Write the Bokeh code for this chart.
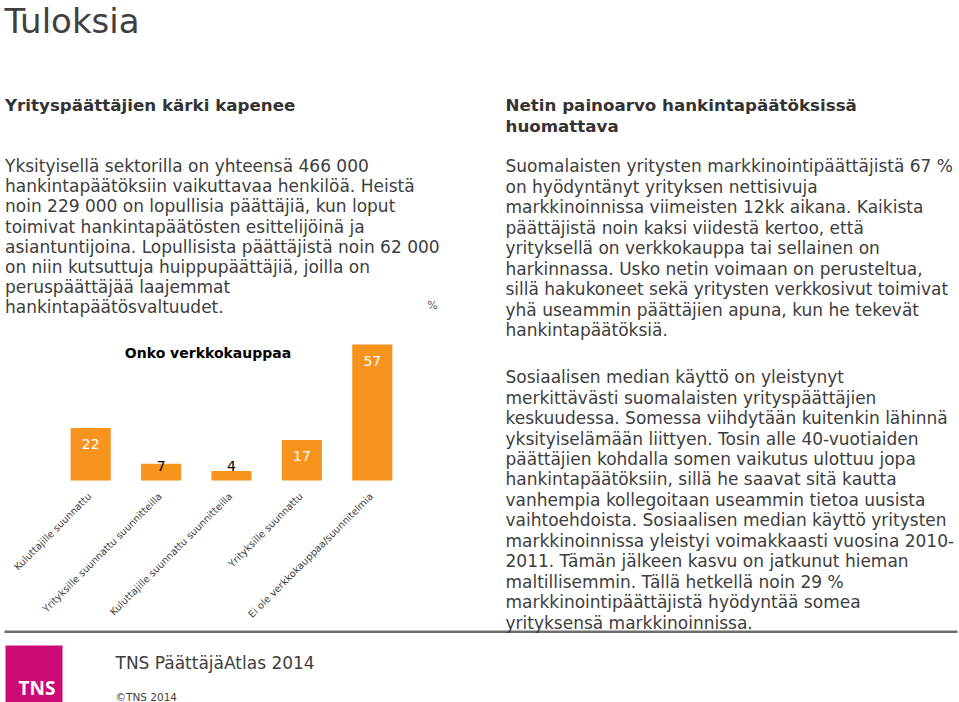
from math import pi
from bokeh.plotting import figure
from bokeh.models import Range1d, Label, ColumnDataSource
from bokeh.core.properties import value
from bokeh.embed import file_html
from bokeh.resources import INLINE

# ---------------- data ----------------
categories = [
    "Kuluttajille suunnattu",
    "Yrityksille suunnattu suunnitteilla",
    "Kuluttajille suunnattu suunnitteilla",
    "Yrityksille suunnattu",
    "Ei ole verkkokauppaa/suunnitelmia",
]
values = [22, 7, 4, 17, 57]
chart_title = "Onko verkkokauppaa"
unit_label = "%"

page_title = "Tuloksia"
left_heading = ["Yrityspäättäjien kärki kapenee"]
left_body = [
    "Yksityisellä sektorilla on yhteensä 466 000",
    "hankintapäätöksiin vaikuttavaa henkilöä. Heistä",
    "noin 229 000 on lopullisia päättäjiä, kun loput",
    "toimivat hankintapäätösten esittelijöinä ja",
    "asiantuntijoina. Lopullisista päättäjistä noin 62 000",
    "on niin kutsuttuja huippupäättäjiä, joilla on",
    "peruspäättäjää laajemmat",
    "hankintapäätösvaltuudet.",
]
right_heading = ["Netin painoarvo hankintapäätöksissä", "huomattava"]
right_body_1 = [
    "Suomalaisten yritysten markkinointipäättäjistä 67 %",
    "on hyödyntänyt yrityksen nettisivuja",
    "markkinoinnissa viimeisten 12kk aikana. Kaikista",
    "päättäjistä noin kaksi viidestä kertoo, että",
    "yrityksellä on verkkokauppa tai sellainen on",
    "harkinnassa. Usko netin voimaan on perusteltua,",
    "sillä hakukoneet sekä yritysten verkkosivut toimivat",
    "yhä useammin päättäjien apuna, kun he tekevät",
    "hankintapäätöksiä.",
]
right_body_2 = [
    "Sosiaalisen median käyttö on yleistynyt",
    "merkittävästi suomalaisten yrityspäättäjien",
    "keskuudessa. Somessa viihdytään kuitenkin lähinnä",
    "yksityiselämään liittyen. Tosin alle 40-vuotiaiden",
    "päättäjien kohdalla somen vaikutus ulottuu jopa",
    "hankintapäätöksiin, sillä he saavat sitä kautta",
    "vanhempia kollegoitaan useammin tietoa uusista",
    "vaihtoehdoista. Sosiaalisen median käyttö yritysten",
    "markkinoinnissa yleistyi voimakkaasti vuosina 2010-",
    "2011. Tämän jälkeen kasvu on jatkunut hieman",
    "maltillisemmin. Tällä hetkellä noin 29 %",
    "markkinointipäättäjistä hyödyntää somea",
    "yrityksensä markkinoinnissa.",
]
footer_title = "TNS PäättäjäAtlas 2014"
footer_copy = "©TNS 2014"
logo_text = "TNS"

# ---------------- layout / styles ----------------
FONT = "DejaVu Sans"
TEXT = "#3d3d3d"
ORANGE = "#f7941d"
MAGENTA = "#cc0a74"
W, H = 959, 702
# bar-chart plotting area on the page (pixels)
CH_L, CH_R, CH_B, CH_T = 55, 407, 480, 344

p = figure(
    width=W, height=H, title=None,
    x_range=Range1d(0, W), y_range=Range1d(H, 0),
    output_backend="svg", toolbar_location=None,
    x_axis_location=None, y_axis_location=None,
    min_border=0,
)
p.outline_line_color = None
p.xgrid.visible = False
p.ygrid.visible = False
p.background_fill_color = "white"
p.border_fill_color = "white"

# scales for the bar chart: category index on x, percent on y
n = len(categories)
kx = n / (CH_R - CH_L)
ky = max(values) / (CH_B - CH_T)
p.extra_x_ranges = {"bar": Range1d(-0.5 - CH_L * kx, -0.5 + (W - CH_L) * kx)}
p.extra_y_ranges = {"bar": Range1d((CH_B - H) * ky, CH_B * ky)}

idx = list(range(n))
inside = [v >= 10 for v in values]
src = ColumnDataSource(dict(
    x=idx,
    val=values,
    zero=[0] * n,
    cat=categories,
    ly=[v if i else 6 for v, i in zip(values, inside)],
    lyo=[16 if i else 0 for i in inside],
    lc=["white" if i else "black" for i in inside],
    txt=[str(v) for v in values],
))
p.vbar(x="x", top="val", bottom="zero", width=0.57, source=src,
       fill_color=ORANGE, line_color=None, x_range_name="bar", y_range_name="bar")
p.text(x="x", y="ly", text="txt", source=src, y_offset="lyo",
       text_color="lc", text_align="center", text_baseline="middle",
       text_font=value(FONT), text_font_size="14px",
       x_range_name="bar", y_range_name="bar")
# category labels (rotated), anchored under each bar
p.text(x="x", y="zero", text="cat", source=src, angle=pi / 4,
       x_offset=-1, y_offset=14,
       text_color=TEXT, text_align="right", text_baseline="middle",
       text_font=value(FONT), text_font_size="9.8px",
       x_range_name="bar", y_range_name="bar")


def lab(x, y, text, size, color=TEXT, bold=False, font=FONT, align="left", baseline="middle"):
    p.add_layout(Label(x=x, y=y, text=text,
                       text_font=font, text_font_size=f"{size}px",
                       text_font_style="bold" if bold else "normal",
                       text_color=color, text_align=align, text_baseline=baseline))


def block(x, y0, lines, size, step, **kw):
    for i, t in enumerate(lines):
        lab(x, y0 + i * step, t, size, **kw)


lab(207.5, 352, chart_title, 14, color="black", bold=True, align="center")
lab(432, 305, unit_label, 11, color="#555555", align="center")

lab(4, 20, page_title, 34, color="#404040")
block(4.5, 104, left_heading, 16.7, 20.5, bold=True, color="#333333")
block(4.5, 165.5, left_body, 17, 20.2)
block(505, 104.5, right_heading, 16.7, 20.5, bold=True, color="#333333")
block(505, 165.5, right_body_1, 17, 20.5)
block(505, 376.7, right_body_2, 17, 20.45)

# separator rule and logo
p.quad(left=4, right=957, top=630, bottom=632.5, fill_color="#6e6e6e", line_color=None)
p.quad(left=5, right=62, top=645, bottom=702, fill_color=MAGENTA, line_color=None)
lab(36.5, 687.5, logo_text, 19, color="white", bold=True, font="Open Sans", align="center")
lab(115, 662, footer_title, 17)
lab(115, 696, footer_copy, 10.5)

open("out.html", "w").write(file_html(p, INLINE))
